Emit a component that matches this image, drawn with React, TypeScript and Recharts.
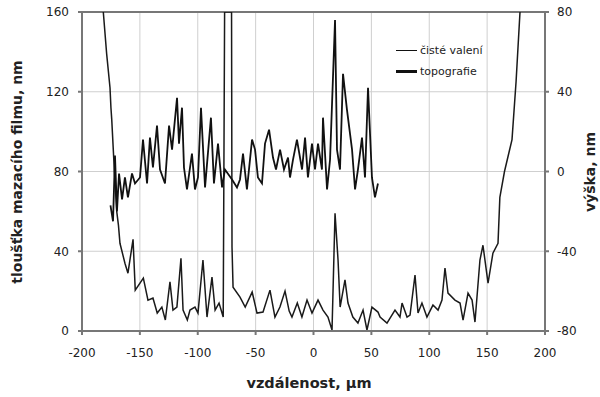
import { LineChart, Line, XAxis, YAxis, CartesianGrid, ReferenceLine } from 'recharts'

// čisté valení – tloušťka filmu (levá osa, nm)
const valeniX = [-181.6,-178.7,-175.8,-175,-174.3,-172,-170,-168.5,-167.2,-162.9,-160.3,-155.9,-154,-147,-143,-138.7,-135,-131,-128,-124,-121.4,-118,-114.5,-112.7,-109,-106.7,-102.4,-99.8,-95.5,-92,-87.7,-85,-81.6,-78,-76.8,-70.8,-70.4,-69.5,-63.5,-59,-53,-48.8,-43.6,-37.6,-33.3,-29,-24.6,-21,-18.6,-14,-10,-5.6,-1.3,3.9,8.2,12.5,16,18.6,21.2,23,27.2,29.8,34,38.4,42.8,46.2,50.5,55.7,57.5,63.5,70.4,74.7,76.5,80.8,83.4,87.7,90.3,93.7,98,103.2,107.6,111,113.6,116.2,122.2,126.6,129.2,133.5,137,139.5,143.8,146.4,150.8,155,159.4,161,165,171.5,175,178.4]
const valeniY = [160,139,122,112,106,80,60,53,44,34,29,46,20.5,26.5,15.5,16.5,9,12,5.5,24.6,10.5,12,36.5,10.5,5.5,10.5,12,9,35.6,7,27,10.5,14,7,160,160,42,22,17,12,19.5,9,9.5,20.5,7,12,20,10,7,14,7,15.5,9,15.5,10.5,7,0.5,59,35.6,12,25.6,14,7,4,10.5,0.5,12,9.5,7,4,10.5,7,14,7,8,28,9,14,7,13,10.5,15.5,31.6,19,15.5,14,5.5,19,15.5,4.5,35.6,43,24,39,44,67,80,96,125,160]

// topografie – výška (pravá osa, nm)
const topoX = [-175.4,-173.2,-171.5,-169.8,-168,-165.4,-162.9,-160.3,-156.8,-154.2,-149.9,-147.3,-143.8,-141.3,-138.7,-135.2,-132.6,-128.3,-124.8,-122.2,-117.9,-116.2,-113.6,-111.9,-109.3,-105,-102.4,-99.8,-97.2,-93.7,-88.6,-86,-82.5,-79,-76.5,-70.4,-66.1,-63.5,-60.9,-57.5,-53.1,-50.5,-48,-44.5,-41.9,-38.4,-35,-32.4,-28.9,-25.5,-22,-20.3,-17.7,-14.3,-9.9,-7.3,-4.8,-1.3,1.3,3.9,7.3,8.2,11.7,14.3,18.6,20.3,22.9,25.5,28.9,33.3,35.9,38.4,41.9,44.5,47.1,50.5,53.1,55.7]
const topoY = [-17,-25,8,-20,-1,-14,-3,-13,-1,-6,-3,16,-6,17,2,23,1,-6,23,11,37,14,32,2,-9,9,-9,-3,32,-8,27,-6,14,-8,1,-4,-8,-4,9,-9,16,11,-3,-6,14,21,7,1,11,1,7,-3,6,16,1,17,-3,14,1,14,1,27,-9,6,76,11,1,49,31,11,-9,1,17,-3,42,-3,-13,-6]

const xTicks = [-200, -150, -100, -50, 0, 50, 100, 150, 200]
const leftTicks = [0, 40, 80, 120, 160]
const rightTicks = [-80, -40, 0, 40, 80]
const legendItems = [{ name: 'čisté valení', width: 1.3 }, { name: 'topografie', width: 2.2 }]

const valeniData = valeniX.map((x, i) => ({ x, y: valeniY[i] }))
const topoData = topoX.map((x, i) => ({ x, y: topoY[i] }))

const FONT = '"DejaVu Sans", Arial, sans-serif'
const tick = { fill: '#222', fontSize: 12, fontFamily: FONT }

export default function App() {
  return (
    <div style={{ position: 'absolute', left: 0, top: 0, width: 600, height: 397, background: '#fff' }}>
      <LineChart width={600} height={397} margin={{ top: 12, right: 0, left: 0, bottom: 0 }}>
        <CartesianGrid yAxisId="left" stroke="#cfcfcf" strokeWidth={1} />
        <XAxis dataKey="x" type="number" domain={[-200, 200]} ticks={xTicks} allowDataOverflow
          tick={tick} tickSize={4} tickMargin={13} height={66} stroke="#777" strokeWidth={2}
          label={{ content: () => (
            <text x={309} y={388} textAnchor="middle" fontFamily={FONT} fontSize={14.5} fontWeight="bold" fill="#222">vzdálenost, µm</text>
          ) }} />
        <YAxis yAxisId="left" domain={[0, 160]} ticks={leftTicks} allowDataOverflow width={82}
          tick={tick} tickSize={4} tickMargin={9} stroke="#777" strokeWidth={2}
          label={{ content: () => (
            <text x={17} y={172} transform="rotate(-90 17 172)" textAnchor="middle" dominantBaseline="central"
              fontFamily={FONT} fontSize={14} fontWeight="bold" fill="#222">tloušťka mazacího filmu, nm</text>
          ) }} />
        <YAxis yAxisId="right" orientation="right" domain={[-80, 80]} ticks={rightTicks} allowDataOverflow width={55}
          tick={tick} tickSize={4} tickMargin={8} stroke="#777" strokeWidth={2}
          label={{ content: () => (
            <text x={590} y={172} transform="rotate(-90 590 172)" textAnchor="middle" dominantBaseline="central"
              fontFamily={FONT} fontSize={14} fontWeight="bold" fill="#222">výška, nm</text>
          ) }} />
        <ReferenceLine yAxisId="left" y={160} stroke="#777" strokeWidth={2} />
        <Line yAxisId="left" data={valeniData} dataKey="y" name="čisté valení" type="linear"
          stroke="#1a1a1a" strokeWidth={1.5} dot={false} isAnimationActive={false} />
        <Line yAxisId="right" data={topoData} dataKey="y" name="topografie" type="linear"
          stroke="#111" strokeWidth={1.8} dot={false} isAnimationActive={false} />
      </LineChart>
      <div style={{ position: 'absolute', left: 396, top: 40, fontFamily: FONT, fontSize: 11, color: '#222', lineHeight: '21px' }}>
        {legendItems.map(it => (
          <div key={it.name} style={{ display: 'flex', alignItems: 'center' }}>
            <span style={{ display: 'inline-block', width: 21, height: it.width, background: '#111', marginRight: 3 }} />
            {it.name}
          </div>
        ))}
      </div>
    </div>
  )
}
